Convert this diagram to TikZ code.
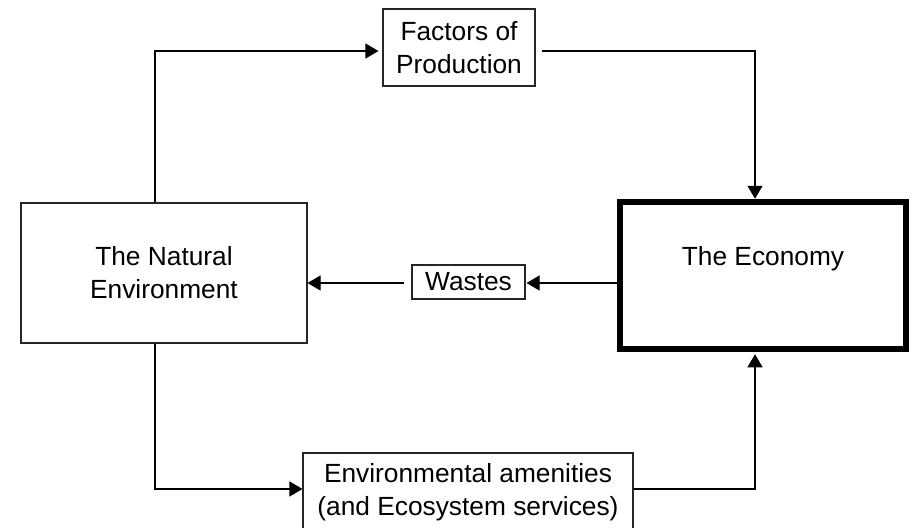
\documentclass[tikz,border=0pt]{standalone}
\usepackage{fontspec}
\setmainfont{Liberation Sans}
\usetikzlibrary{arrows.meta}
\begin{document}
\begin{tikzpicture}[x=1pt,y=-1pt,
  txt/.style={font=\fontsize{26.3}{33}\selectfont, align=center},
  box/.style={txt, draw=black!85, line width=1.1pt, inner sep=0pt},
  ecobox/.style={txt, draw=black, line width=6.5pt, inner sep=0pt},
  arr/.style={draw=black, line width=1.1pt, -{Triangle[length=13pt,width=15pt]}},
  ln/.style={draw=black, line width=1.1pt}]
\useasboundingbox (0,0) rectangle (912,527);
\fill[white] (0,0) rectangle (912,527);
\node[box, minimum width=152pt, minimum height=77pt] (fac) at (459,47.5) {Factors of\\Production};
\node[box, minimum width=286pt, minimum height=140pt] (nat) at (164,273) {The Natural\\Environment};
\node[ecobox, minimum width=286pt, minimum height=147pt, text height=19pt, text depth=38.4pt] (eco) at (763,275.5) {The Economy};
\node[box, minimum width=113pt, minimum height=34pt] (was) at (468.5,282) {Wastes};
\node[box, minimum width=330pt, minimum height=79pt] (amen) at (468,492.5) {Environmental amenities\\(and Ecosystem services)};
\coordinate (top) at (155,51);
\coordinate (topr) at (755,51);
\coordinate (mid) at (0,283);
\coordinate (bot) at (155,489);
\coordinate (botr) at (755,489);
% Natural environment -> Factors of production
\draw[arr, shorten >=4pt] (nat.north -| top) -- (top) -- (fac.west |- top);
% Factors -> Economy
\draw[arr, shorten <=6pt] (fac.east |- topr) -- (topr) -- (eco.north -| topr);
% Economy -> Wastes
\draw[arr, shorten >=1pt] (eco.west |- mid) -- (was.east |- mid);
% Wastes -> Natural environment
\draw[arr, shorten <=7pt] (was.west |- mid) -- (nat.east |- mid);
% Natural environment -> Amenities
\draw[arr] (nat.south -| bot) -- (bot) -- (amen.west |- bot);
% Amenities -> Economy
\draw[arr, shorten >=2pt] (amen.east |- botr) -- (botr) -- (eco.south -| botr);
\end{tikzpicture}
\end{document}
